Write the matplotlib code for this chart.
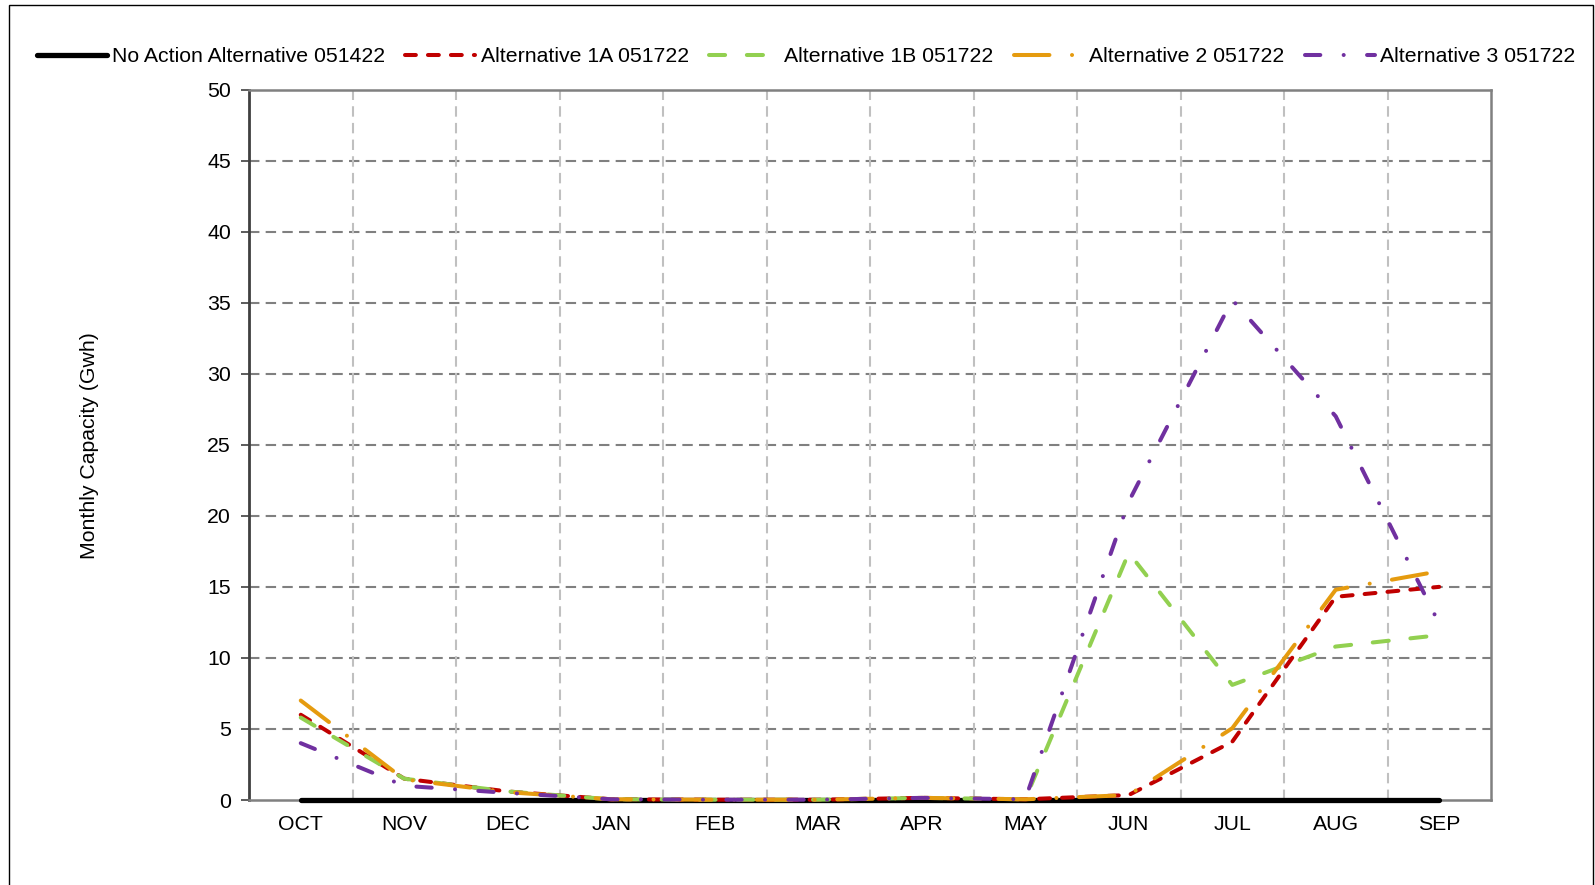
import matplotlib
matplotlib.use("Agg")
import matplotlib.pyplot as plt
from matplotlib.patches import Rectangle

plt.rcParams['font.family'] = ['Liberation Sans', 'DejaVu Sans']

months = ["OCT", "NOV", "DEC", "JAN", "FEB", "MAR", "APR", "MAY", "JUN", "JUL", "AUG", "SEP"]
no_action = [0, 0, 0, 0, 0, 0, 0, 0, 0, 0, 0, 0]
alt_1a = [6.0, 1.5, 0.6, 0.05, 0.02, 0.02, 0.15, 0.05, 0.35, 4.1, 14.3, 15.0]
alt_1b = [5.8, 1.5, 0.6, 0.05, 0.02, 0.02, 0.15, 0.05, 17.4, 8.1, 10.8, 11.6]
alt_2 = [7.0, 1.45, 0.55, 0.05, 0.02, 0.02, 0.15, 0.05, 0.35, 5.05, 14.8, 16.1]
alt_3 = [4.0, 1.0, 0.5, 0.05, 0.02, 0.02, 0.15, 0.05, 21.0, 35.2, 27.0, 12.4]
names = ["No Action Alternative 051422", "Alternative 1A 051722", "Alternative 1B 051722",
         "Alternative 2 051722", "Alternative 3 051722"]
yticks = [0, 5, 10, 15, 20, 25, 30, 35, 40, 45, 50]

W, H = 1595, 885
FS = 15.3
fig = plt.figure(figsize=(W / 100, H / 100), dpi=100)
ax = fig.add_axes([249 / W, 85 / H, (1491 - 249) / W, (800 - 89.5) / H])

x = list(range(len(months)))
lw = 2.9
ax.plot(x, no_action, color="black", lw=3.8, solid_capstyle="round", zorder=3, clip_on=False, label=names[0])
ax.plot(x, alt_1a, color="#C00000", lw=lw, dashes=(2.7, 3.0), dash_capstyle="round", zorder=4, clip_on=False, label=names[1])
ax.plot(x, alt_1b, color="#92D050", lw=lw, dashes=(4.0, 5.4), dash_capstyle="round", zorder=5, clip_on=False, label=names[2])
ax.plot(x, alt_2, color="#E59B0F", lw=lw, dashes=(8.8, 5.6, 0.01, 5.6), dash_capstyle="round", zorder=6, clip_on=False, label=names[3])
ax.plot(x, alt_3, color="#7030A0", lw=lw, dashes=(3.8, 5.8, 0.01, 5.8), dash_capstyle="round", zorder=7, clip_on=False, label=names[4])

ax.set_xlim(-0.5, len(months) - 0.5)
ax.set_ylim(0, 50)
ax.set_yticks(yticks)
ax.set_xticks(x)
ax.set_xticklabels(months)
ax.tick_params(axis="x", length=0, pad=11, labelsize=FS)
ax.tick_params(axis="y", length=6, width=1.2, color="#404040", pad=7, labelsize=FS)

for v in yticks[1:-1]:
    ax.axhline(v, color="#808080", lw=1.5, dashes=(5, 3), zorder=1)
for i in range(len(months) - 1):
    ax.axvline(i + 0.5, color="#C0C0C0", lw=1.5, dashes=(5, 3), zorder=1)

for s in ["top", "right", "bottom"]:
    ax.spines[s].set_color("#808080")
    ax.spines[s].set_linewidth(1.8)
ax.spines["left"].set_color("#404040")
ax.spines["left"].set_linewidth(2.0)

fig.text(89.5 / W, 1 - 445.5 / H, "Monthly Capacity (Gwh)", rotation=90, ha="center", va="center", fontsize=FS)

handles, labels = ax.get_legend_handles_labels()
fig.legend(handles, labels, loc="center", bbox_to_anchor=(806 / W, 1 - 57 / H), ncol=5, frameon=False,
           fontsize=FS, handlelength=3.3, handletextpad=0.25, columnspacing=0.95)

fig.patches.append(Rectangle((8.5 / W, -0.05), (1593 - 8.5) / W, 1.05 - 4.5 / H, transform=fig.transFigure,
                             fill=False, edgecolor="black", lw=1.0))

fig.savefig("out.png", dpi=100)
